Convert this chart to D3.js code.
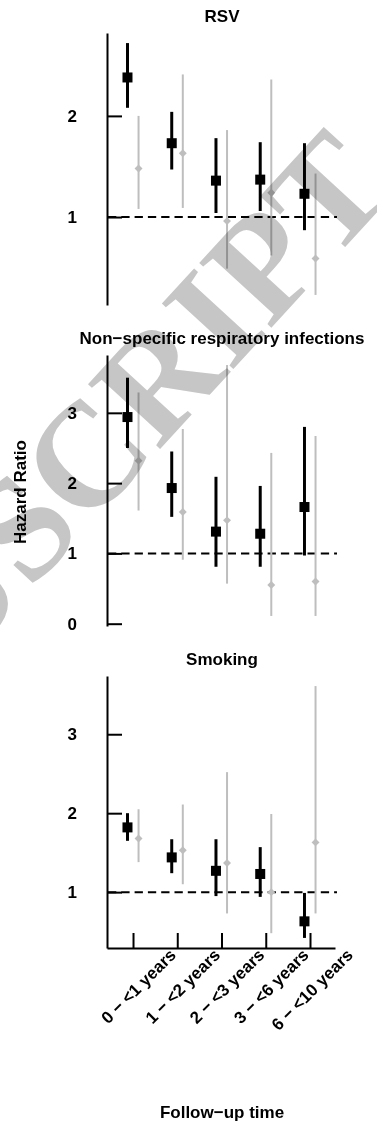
<!DOCTYPE html>
<html>
<head>
<meta charset="utf-8">
<script src="https://cdnjs.cloudflare.com/ajax/libs/d3/7.8.5/d3.min.js"></script>
<style>
    body { margin: 0; background: #fff; }
    svg { display: block; font-family: "Liberation Sans", Arial, sans-serif; }
</style>
</head>
<body>
<svg id="chart" width="377" height="1126"></svg>
<script>
/*global d3 */
(function () {
    "use strict";

    var categories = ["0 \u2212 <1 years", "1 \u2212 <2 years",
            "2 \u2212 <3 years", "3 \u2212 <6 years", "6 \u2212 <10 years"];
    var panelTitles = ["RSV", "Non\u2212specific respiratory infections",
            "Smoking"];
    var yTickValues = [[1, 2], [0, 1, 2, 3], [1, 2, 3]];

    // black = squares, grey = diamonds
    var rsvBlackHR = [2.38, 1.73, 1.36, 1.37, 1.23];
    var rsvBlackLo = [2.08, 1.47, 1.04, 1.06, 0.87];
    var rsvBlackHi = [2.72, 2.04, 1.78, 1.74, 1.73];
    var rsvGreyHR = [1.48, 1.63, 0.96, 1.24, 0.59];
    var rsvGreyLo = [1.08, 1.09, 0.49, 0.62, 0.23];
    var rsvGreyHi = [2.00, 2.41, 1.86, 2.36, 1.43];

    var nsriBlackHR = [2.94, 1.93, 1.31, 1.28, 1.66];
    var nsriBlackLo = [2.50, 1.52, 0.81, 0.81, 0.97];
    var nsriBlackHi = [3.50, 2.45, 2.09, 1.96, 2.80];
    var nsriGreyHR = [2.32, 1.59, 1.47, 0.55, 0.60];
    var nsriGreyLo = [1.61, 0.91, 0.57, 0.11, 0.11];
    var nsriGreyHi = [3.29, 2.77, 3.68, 2.43, 2.67];

    var smokBlackHR = [1.82, 1.44, 1.27, 1.23, 0.63];
    var smokBlackLo = [1.65, 1.24, 0.95, 0.94, 0.42];
    var smokBlackHi = [2.00, 1.67, 1.67, 1.57, 0.99];
    var smokGreyHR = [1.68, 1.53, 1.37, 1.00, 1.63];
    var smokGreyLo = [1.38, 1.10, 0.73, 0.48, 0.73];
    var smokGreyHi = [2.05, 2.11, 2.52, 1.99, 3.61];

    var grey = "#bebebe";
    var fontSize = 17; // px
    var offset = 0.125; // category units between the two series

    var series = function (hr, lo, hi) {
        return hr.map(function (v, i) {
            return {pos: i + 1, hr: v, lo: lo[i], hi: hi[i]};
        });
    };

    var panels = [
        {
            title: panelTitles[0],
            ticks: yTickValues[0],
            black: series(rsvBlackHR, rsvBlackLo, rsvBlackHi),
            grey: series(rsvGreyHR, rsvGreyLo, rsvGreyHi),
            range: [305, 33]
        },
        {
            title: panelTitles[1],
            ticks: yTickValues[1],
            black: series(nsriBlackHR, nsriBlackLo, nsriBlackHi),
            grey: series(nsriGreyHR, nsriGreyLo, nsriGreyHi),
            range: [626, 355]
        },
        {
            title: panelTitles[2],
            ticks: yTickValues[2],
            black: series(smokBlackHR, smokBlackLo, smokBlackHi),
            grey: series(smokGreyHR, smokGreyLo, smokGreyHi),
            range: [948, 676],
            xAxis: true
        }
    ];

    var svg = d3.select("#chart");

    var x = d3.scaleLinear()
        .domain([0.412, 5.565])
        .range([107, 335]);

    panels.forEach(function (p) {
        var all = p.black.concat(p.grey);
        var lo = d3.min(all, function (d) { return d.lo; });
        var hi = d3.max(all, function (d) { return d.hi; });
        var pad = (hi - lo) * 0.04;
        var y = d3.scaleLinear()
            .domain([lo - pad, hi + pad])
            .range(p.range);
        var g = svg.append("g");

        g.append("text")
            .attr("x", 222)
            .attr("y", p.range[1] - 11)
            .attr("text-anchor", "middle")
            .attr("font-size", fontSize)
            .attr("font-weight", "bold")
            .text(p.title);

        // reference line at HR = 1
        g.append("line")
            .attr("x1", x.range()[0] + 1)
            .attr("x2", x.range()[1] + 2)
            .attr("y1", y(1))
            .attr("y2", y(1))
            .attr("stroke", "#000")
            .attr("stroke-width", 2)
            .attr("stroke-dasharray", "8.3,5");

        var yAxis = g.append("g")
            .attr("transform", "translate(" + x.range()[0] + ",0)")
            .call(d3.axisLeft(y)
                .tickValues(p.ticks)
                .tickFormat(d3.format("d"))
                .tickSizeInner(-15)
                .tickSizeOuter(0)
                .tickPadding(30));
        yAxis.select(".domain").attr("stroke-width", 2);
        yAxis.selectAll(".tick line").attr("stroke-width", 2);
        yAxis.selectAll(".tick text")
            .attr("font-size", fontSize)
            .attr("font-weight", "bold")
            .attr("font-family", "Liberation Sans, Arial, sans-serif");

        if (p.xAxis) {
            var xAxis = g.append("g")
                .attr("transform", "translate(0," + p.range[0] + ")")
                .call(d3.axisBottom(x)
                    .tickValues(d3.range(1, categories.length + 1))
                    .tickFormat("")
                    .tickSizeInner(-15)
                    .tickSizeOuter(0));
            xAxis.select(".domain").attr("stroke-width", 2);
            xAxis.selectAll(".tick line").attr("stroke-width", 2);

            g.selectAll("text.cat")
                .data(categories)
                .join("text")
                .attr("class", "cat")
                .attr("transform", function (d, i) {
                    return "translate(" + (x(i + 1) + 44) + "," +
                            (p.range[0] + 8) + ") rotate(-45)";
                })
                .attr("text-anchor", "end")
                .attr("font-size", fontSize)
                .attr("font-weight", "bold")
                .text(function (d) { return d; });
        }

        // grey series: thin lines, small diamonds
        g.selectAll("line.grey")
            .data(p.grey)
            .join("line")
            .attr("class", "grey")
            .attr("x1", function (d) { return x(d.pos + offset); })
            .attr("x2", function (d) { return x(d.pos + offset); })
            .attr("y1", function (d) { return y(d.lo); })
            .attr("y2", function (d) { return y(d.hi); })
            .attr("stroke", grey)
            .attr("stroke-width", 2);
        g.selectAll("rect.grey")
            .data(p.grey)
            .join("rect")
            .attr("class", "grey")
            .attr("x", -2.8)
            .attr("y", -2.8)
            .attr("width", 5.6)
            .attr("height", 5.6)
            .attr("fill", grey)
            .attr("transform", function (d) {
                return "translate(" + x(d.pos + offset) + "," + y(d.hr) +
                        ") rotate(45)";
            });

        // black series: thick lines, squares
        g.selectAll("line.black")
            .data(p.black)
            .join("line")
            .attr("class", "black")
            .attr("x1", function (d) { return x(d.pos - offset); })
            .attr("x2", function (d) { return x(d.pos - offset); })
            .attr("y1", function (d) { return y(d.lo); })
            .attr("y2", function (d) { return y(d.hi); })
            .attr("stroke", "#000")
            .attr("stroke-width", 3);
        g.selectAll("rect.black")
            .data(p.black)
            .join("rect")
            .attr("class", "black")
            .attr("x", function (d) { return x(d.pos - offset) - 5; })
            .attr("y", function (d) { return y(d.hr) - 5; })
            .attr("width", 10)
            .attr("height", 10)
            .attr("fill", "#000");
    });

    svg.append("text")
        .attr("transform", "translate(26,492) rotate(-90)")
        .attr("text-anchor", "middle")
        .attr("font-size", fontSize)
        .attr("font-weight", "bold")
        .text("Hazard Ratio");

    svg.append("text")
        .attr("x", 222)
        .attr("y", 1118)
        .attr("text-anchor", "middle")
        .attr("font-size", fontSize)
        .attr("font-weight", "bold")
        .text("Follow\u2212up time");

    // watermark over the page, split at the left edge
    var mark = svg.append("g")
        .attr("transform", "translate(30,591) rotate(-47.5)")
        .attr("font-family", "Liberation Serif, serif")
        .attr("font-size", 148)
        .attr("font-weight", "bold")
        .attr("fill", "#c6c6c6")
        .style("mix-blend-mode", "multiply");
    mark.append("text")
        .attr("text-anchor", "end")
        .text("MANU");
    mark.append("text")
        .text("SCRIPT");
}());
</script>
</body>
</html>
